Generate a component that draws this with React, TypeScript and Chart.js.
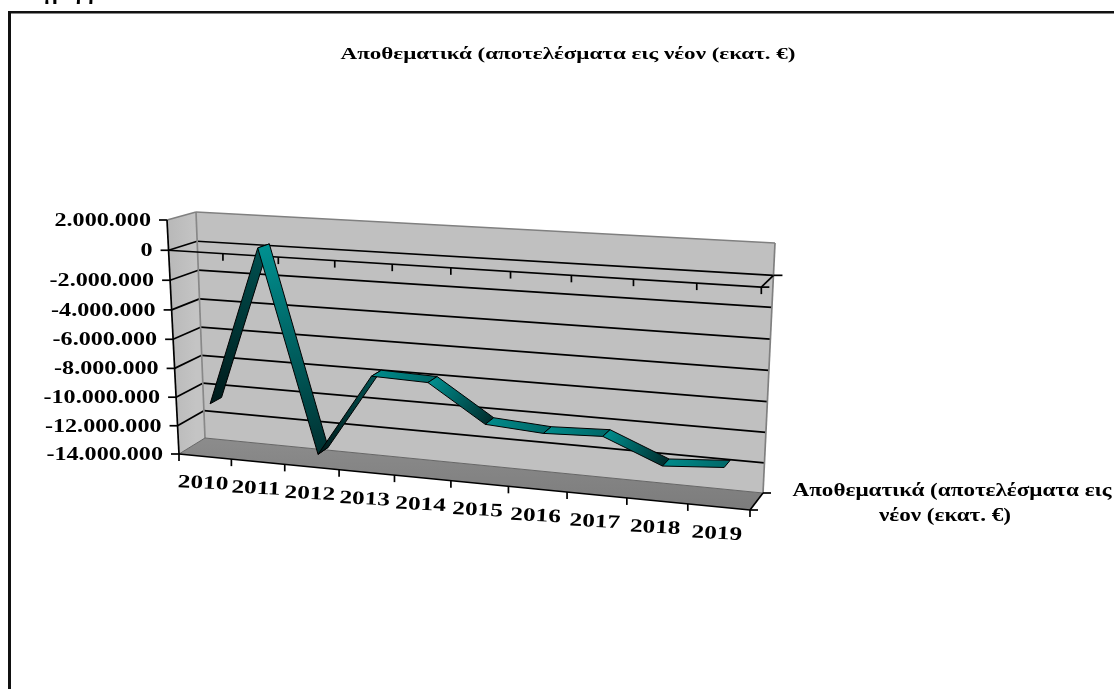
import React, { useEffect, useRef } from "react";
import { Chart, registerables } from "chart.js";

Chart.register(...registerables);

const years = ["2010", "2011", "2012", "2013", "2014", "2015", "2016", "2017", "2018", "2019"];
const reserves = [
  -10580000, 315000, -13430000, -7720000, -7840000, -10310000, -10570000, -10420000, -12010000, -11730000,
];
const seriesName = "Αποθεματικά (αποτελέσματα εις νέον (εκατ. €)";
const legendLines = ["Αποθεματικά (αποτελέσματα εις", "νέον (εκατ. €)"];

type Pt = { x: number; y: number };

// Box of the 3D view: front and back planes as seen on screen.
const FRONT = { tl: { x: 167, y: 220 }, bl: { x: 179, y: 454 }, br: { x: 750, y: 510 }, tr: { x: 763, y: 254 } };
const BACK = { tl: { x: 196, y: 212 }, bl: { x: 205, y: 438 }, br: { x: 763, y: 493 }, tr: { x: 775, y: 243 } };
const PERSPECTIVE_U = 1.1;
const PERSPECTIVE_V = 1.04;
const RIBBON_NEAR = 0.28;
const RIBBON_FAR = 0.72;
const SERIF = '"Liberation Serif"';

const lerp = (a: Pt, b: Pt, t: number): Pt => ({ x: a.x + (b.x - a.x) * t, y: a.y + (b.y - a.y) * t });
const foreshorten = (t: number, r: number) => t / (t + r * (1 - t));

// u: along the categories, v: up the value axis, w: into the depth of the box (all 0..1).
function project(u: number, v: number, w: number): Pt {
  const s = foreshorten(u, PERSPECTIVE_U);
  const h = foreshorten(v, PERSPECTIVE_V);
  const onPlane = (p: typeof FRONT) => lerp(lerp(p.bl, p.br, s), lerp(p.tl, p.tr, s), h);
  return lerp(onPlane(FRONT), onPlane(BACK), w);
}

function poly(ctx: CanvasRenderingContext2D, pts: Pt[]) {
  ctx.beginPath();
  pts.forEach((p, i) => (i ? ctx.lineTo(p.x, p.y) : ctx.moveTo(p.x, p.y)));
  ctx.closePath();
}

function segment(ctx: CanvasRenderingContext2D, a: Pt, b: Pt, color: string, width = 1.7) {
  ctx.strokeStyle = color;
  ctx.lineWidth = width;
  ctx.beginPath();
  ctx.moveTo(a.x, a.y);
  ctx.lineTo(b.x, b.y);
  ctx.stroke();
}

// Bold serif text with the wide horizontal proportions of the chart's lettering.
function wideText(
  ctx: CanvasRenderingContext2D,
  text: string,
  x: number,
  y: number,
  size: number,
  stretch: number,
  align: CanvasTextAlign,
  angle = 0
) {
  ctx.save();
  ctx.translate(x, y);
  ctx.rotate(angle);
  ctx.scale(stretch, 1);
  ctx.font = `bold ${size}px ${SERIF}`;
  ctx.fillStyle = "#000";
  ctx.textAlign = align;
  ctx.textBaseline = "middle";
  ctx.fillText(text, 0, 0);
  ctx.restore();
}

const formatValue = (v: number) => (v < 0 ? "-" : "") + Math.abs(v).toString().replace(/\B(?=(\d{3})+(?!\d))/g, ".");

const ribbonPlugin = {
  id: "ribbon3d",
  beforeDatasetsDraw(chart: any) {
    const ctx: CanvasRenderingContext2D = chart.ctx;
    const xs = chart.scales.x;
    const ys = chart.scales.y;
    const area = chart.chartArea;
    const vOf = (value: number) => (area.bottom - ys.getPixelForValue(value)) / area.height;
    const count = years.length;

    ctx.save();
    ctx.lineCap = "butt";

    // Frame around the chart object
    ctx.fillStyle = "#111";
    ctx.fillRect(8, 11, 3, 678);
    ctx.fillRect(8, 11, 1106, 2.5);

    // Heading above the frame, cut by the top of the page
    wideText(ctx, "Διάγραμμα", 9, -5, 19, 1.15, "left");
    wideText(ctx, chart.data.datasets[0].label, 568, 55, 17, 1.355, "center");

    // Side wall, back wall, floor
    const side = ctx.createLinearGradient(FRONT.tl.x, 0, BACK.tl.x, 0);
    side.addColorStop(0, "#b8b8b8");
    side.addColorStop(1, "#c4c4c4");
    poly(ctx, [FRONT.tl, BACK.tl, BACK.bl, FRONT.bl]);
    ctx.fillStyle = side;
    ctx.fill();
    poly(ctx, [BACK.tl, BACK.tr, BACK.br, BACK.bl]);
    ctx.fillStyle = "#c0c0c0";
    ctx.fill();
    const floor = ctx.createLinearGradient(0, BACK.bl.y, 0, FRONT.br.y);
    floor.addColorStop(0, "#8c8c8c");
    floor.addColorStop(1, "#7c7c7c");
    poly(ctx, [FRONT.bl, BACK.bl, BACK.br, FRONT.br]);
    ctx.fillStyle = floor;
    ctx.fill();

    // Value gridlines on the side and back walls, tick marks and tick labels on the front edge
    for (const tick of ys.ticks) {
      const v = vOf(tick.value);
      const front = project(0, v, 0);
      const backLeft = project(0, v, 1);
      const backRight = project(1, v, 1);
      const inner = v > 0.001 && v < 0.999;
      if (inner) {
        segment(ctx, front, backLeft, "#000");
        segment(ctx, backLeft, backRight, "#000");
      }
      segment(ctx, { x: front.x - 8, y: front.y }, front, "#000");
      wideText(ctx, formatValue(tick.value), front.x - 16, front.y + 1, 19, 1.27, "right");
    }

    // Edges of the walls
    segment(ctx, BACK.tl, BACK.bl, "#888");
    segment(ctx, BACK.tl, BACK.tr, "#808080");
    segment(ctx, BACK.tr, BACK.br, "#808080");
    segment(ctx, FRONT.tl, BACK.tl, "#808080");
    segment(ctx, BACK.bl, BACK.br, "#666", 1);
    segment(ctx, FRONT.bl, BACK.bl, "#666", 1);
    segment(ctx, FRONT.tl, FRONT.bl, "#000");

    // Category axis lying on the zero plane, with its end ticks
    const zero = vOf(0);
    const zeroStart = project(0, zero, 0);
    const zeroEnd = project(1, zero, 0);
    const zeroBack = project(1, zero, 1);
    segment(ctx, zeroStart, zeroEnd, "#000");
    segment(ctx, zeroEnd, zeroBack, "#000");
    segment(ctx, zeroEnd, { x: zeroEnd.x + 8, y: zeroEnd.y }, "#000");
    segment(ctx, zeroBack, { x: zeroBack.x + 9, y: zeroBack.y }, "#000");
    for (let i = 1; i <= count; i++) {
      const p = project(i / count, zero, 0);
      segment(ctx, p, { x: p.x, y: p.y + 7 }, "#000");
    }

    // Front edges of the floor
    segment(ctx, FRONT.bl, FRONT.br, "#000");
    segment(ctx, FRONT.br, BACK.br, "#000");
    segment(ctx, BACK.br, { x: BACK.br.x + 8, y: BACK.br.y }, "#000");
    segment(ctx, FRONT.br, { x: FRONT.br.x + 8, y: FRONT.br.y }, "#000");
    for (let i = 0; i <= count; i++) {
      const p = project(i / count, 0, 0);
      segment(ctx, p, { x: p.x, y: p.y + 7 }, "#000");
    }
    xs.getLabels().forEach((label: string, i: number) => {
      const p = project((i + 0.5) / count, 0, 0);
      wideText(ctx, label, p.x - 2, p.y + 27, 19, 1.33, "center", 0.05);
    });

    // Ribbon for the series, one shaded quad per pair of neighbouring years
    const points = chart.getDatasetMeta(0).data;
    for (let i = 0; i < points.length - 1; i++) {
      const uA = (points[i].x - area.left) / area.width;
      const vA = (area.bottom - points[i].y) / area.height;
      const uB = (points[i + 1].x - area.left) / area.width;
      const vB = (area.bottom - points[i + 1].y) / area.height;
      const nearA = project(uA, vA, RIBBON_NEAR);
      const farA = project(uA, vA, RIBBON_FAR);
      const nearB = project(uB, vB, RIBBON_NEAR);
      const farB = project(uB, vB, RIBBON_FAR);
      const drop = vA - vB;
      const [from, to] =
        drop < -0.05 ? ["#001a1a", "#005050"] : drop > 0.08 ? ["#009090", "#003030"] : ["#008c8c", "#006a6a"];
      const shade = ctx.createLinearGradient(nearA.x, nearA.y, nearB.x, nearB.y);
      shade.addColorStop(0, from);
      shade.addColorStop(1, to);
      poly(ctx, [nearA, farA, farB, nearB]);
      ctx.fillStyle = shade;
      ctx.fill();
      ctx.strokeStyle = "#000";
      ctx.lineWidth = 1;
      ctx.lineJoin = "round";
      ctx.stroke();
    }

    // Series key to the right of the box
    wideText(ctx, legendLines[0], 952, 491, 18, 1.285, "center");
    wideText(ctx, legendLines[1], 945, 516, 18, 1.285, "center");
    ctx.restore();
  },
};

export default function App() {
  const ref = useRef<HTMLCanvasElement | null>(null);

  useEffect(() => {
    const chart = new Chart(ref.current as HTMLCanvasElement, {
      type: "line",
      data: {
        labels: years,
        datasets: [
          {
            label: seriesName,
            data: reserves,
            showLine: false,
            pointRadius: 0,
            pointHoverRadius: 0,
          },
        ],
      },
      options: {
        responsive: false,
        animation: false,
        plugins: {
          legend: { display: false },
          tooltip: { enabled: false },
        },
        scales: {
          x: { type: "category", offset: true, display: false },
          y: { type: "linear", min: -14000000, max: 2000000, ticks: { stepSize: 2000000 }, display: false },
        },
      },
      plugins: [ribbonPlugin],
    } as any);
    return () => chart.destroy();
  }, []);

  return (
    <div style={{ position: "absolute", left: 0, top: 0, width: 1114, height: 689, background: "#fff" }}>
      <canvas ref={ref} width={1114} height={689} style={{ display: "block" }} />
    </div>
  );
}
